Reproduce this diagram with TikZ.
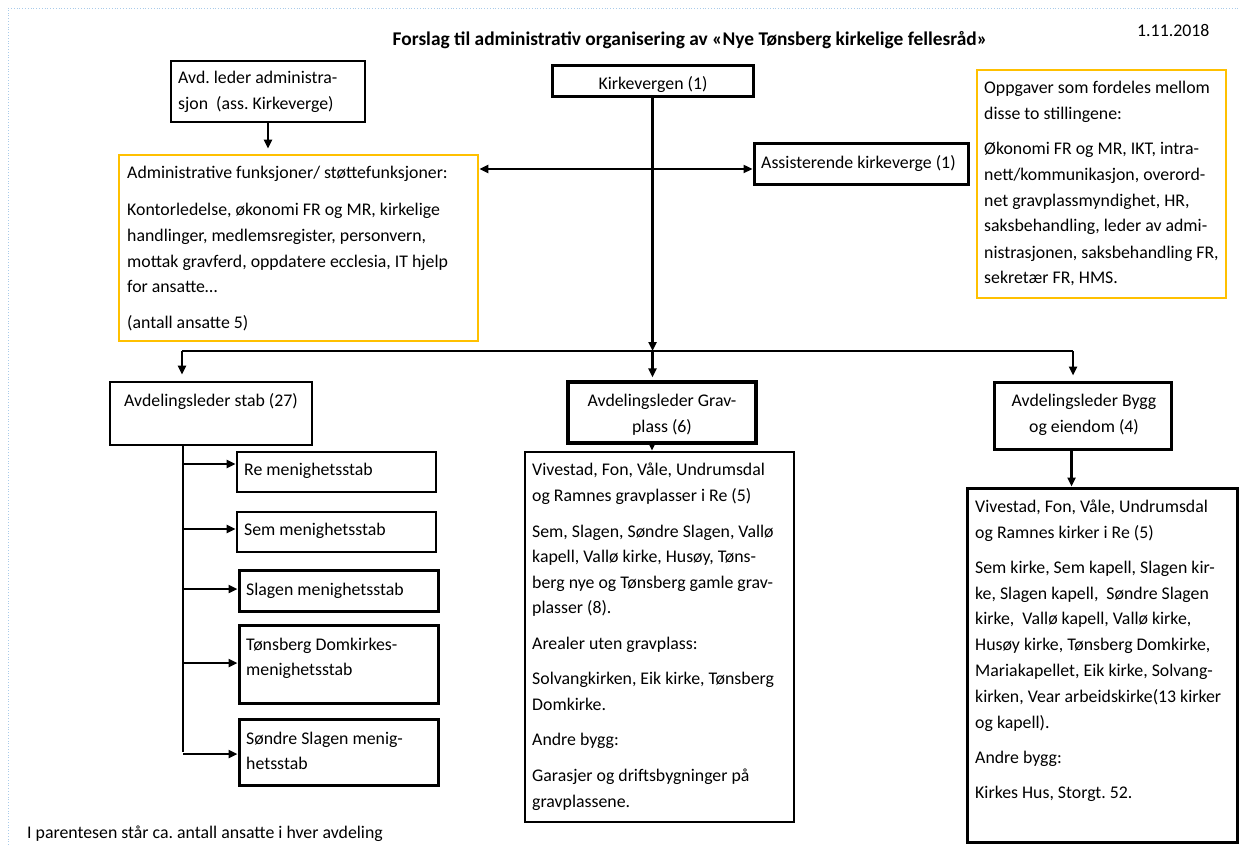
\documentclass[tikz,border=0pt]{standalone}
\usepackage{fontspec}
\setmainfont{Carlito}
\usetikzlibrary{arrows.meta,fit}
\definecolor{gold}{HTML}{FFC000}
\definecolor{pageblue}{HTML}{A9CBEA}
\newcommand\tl[4]{\node[txt] (#1) at (#2,#3) {#4};}
\newcommand\ctl[4]{\node[ctxt] (#1) at (#2,#3) {#4};}
\begin{document}
\begin{tikzpicture}[x=1pt,y=-1pt,
  txt/.style={inner sep=0pt, font=\frenchspacing\fontsize{17.8pt}{21pt}\selectfont, anchor=base west},
  ctxt/.style={txt, anchor=base},
  bxk/.style={draw=black, line width=2.6pt, inner sep=0pt},
  bxthin/.style={draw=black, line width=1.4pt, inner sep=0pt},
  bxy/.style={draw=gold, line width=2.8pt, inner sep=0pt},
  conn/.style={line width=2.3pt},
  arr/.style={conn, -{Triangle[length=9pt,width=8pt]}},
  darr/.style={conn, {Triangle[length=9pt,width=8pt]}-{Triangle[length=9pt,width=8pt]}},
]
\useasboundingbox (0,0) rectangle (1239,845);
\draw[pageblue, line width=0.8pt, dotted] (8,845) -- (8,8) -- (1239,8);

% title and date
\node[txt, anchor=base, font=\frenchspacing\bfseries\fontsize{19.4pt}{22pt}\selectfont] (title) at (690,46) {Forslag til administrativ organisering av «Nye Tønsberg kirkelige fellesråd»};
\tl{date}{1137}{37}{1.11.2018}

% boxes
\node[bxthin, fit={(171,61)(365,122)}] (avd) {};
\node[bxk, line width=3pt, fit={(552,66)(753,97)}] (kv) {};
\node[bxy, fit={(119,155)(478,341)}] (admin) {};
\node[bxk, line width=3pt, fit={(754,144)(968,185)}] (assist) {};
\node[bxy, fit={(977,70)(1226,298)}] (oppg) {};
\node[bxk, fit={(110,382)(312,445)}] (stab) {};
\node[bxk, line width=3.4pt, fit={(568,382)(756,443)}] (grav) {};
\node[bxk, line width=3pt, fit={(994,382)(1171,449)}] (bygg) {};
\node[bxk, fit={(525,452)(794,822)}] (gravl) {};
\node[bxk, line width=3pt, fit={(967,488)(1237,842)}] (byggl) {};
\node[bxk, fit={(237,452)(436,492)}] (re) {};
\node[bxk, fit={(237,512)(436,552)}] (sem) {};
\node[bxk, line width=3pt, fit={(239,570)(438,611)}] (slagen) {};
\node[bxk, line width=3pt, fit={(239,625)(438,703)}] (tons) {};
\node[bxk, line width=3pt, fit={(239,719)(438,785)}] (sondre) {};

% texts
\tl{avd1}{178}{84}{Avd. leder administra-}
\tl{avd2}{178}{110}{sjon\ \ (ass. Kirkeverge)}
\ctl{kvt}{653}{90}{Kirkevergen (1)}
\tl{ast}{761}{169}{Assisterende kirkeverge (1)}

\tl{ad1}{127}{179}{Administrative funksjoner/ støttefunksjoner:}
\tl{ad2}{127}{215}{Kontorledelse, økonomi FR og MR, kirkelige}
\tl{ad3}{127}{241}{handlinger, medlemsregister, personvern,}
\tl{ad4}{127}{267}{mottak gravferd, oppdatere ecclesia, IT hjelp}
\tl{ad5}{127}{292}{for ansatte…}
\tl{ad6}{127}{328}{(antall ansatte 5)}

\tl{op1}{984}{94}{Oppgaver som fordeles mellom}
\tl{op2}{984}{120}{disse to stillingene:}
\tl{op3}{984}{155}{Økonomi FR og MR, IKT, intra-}
\tl{op4}{984}{181}{nett/kommunikasjon, overord-}
\tl{op5}{984}{207}{net gravplassmyndighet, HR,}
\tl{op6}{984}{232}{saksbehandling, leder av admi-}
\tl{op7}{984}{258}{nistrasjonen, saksbehandling FR,}
\tl{op8}{984}{283}{sekretær FR, HMS.}

\ctl{stabt}{211}{406}{Avdelingsleder stab (27)}
\tl{ret}{244}{475}{Re menighetsstab}
\tl{semt}{244}{535}{Sem menighetsstab}
\tl{slt}{246}{595}{Slagen menighetsstab}
\tl{to1}{246}{650}{Tønsberg Domkirkes-}
\tl{to2}{246}{675}{menighetsstab}
\tl{so1}{246}{744}{Søndre Slagen menig-}
\tl{so2}{246}{769}{hetsstab}

\ctl{gr1}{662}{406}{Avdelingsleder Grav-}
\ctl{gr2}{662}{432}{plass (6)}
\ctl{by1}{1084}{406}{Avdelingsleder Bygg}
\ctl{by2}{1084}{432}{og eiendom (4)}

\tl{gl1}{532}{475}{Vivestad, Fon, Våle, Undrumsdal}
\tl{gl2}{532}{501}{og Ramnes gravplasser i Re (5)}
\tl{gl3}{532}{537}{Sem, Slagen, Søndre Slagen, Vallø}
\tl{gl4}{532}{562}{kapell, Vallø kirke, Husøy, Tøns-}
\tl{gl5}{532}{588}{berg nye og Tønsberg gamle grav-}
\tl{gl6}{532}{613}{plasser (8).}
\tl{gl7}{532}{649}{Arealer uten gravplass:}
\tl{gl8}{532}{684}{Solvangkirken, Eik kirke, Tønsberg}
\tl{gl9}{532}{710}{Domkirke.}
\tl{gl10}{532}{745}{Andre bygg:}
\tl{gl11}{532}{781}{Garasjer og driftsbygninger på}
\tl{gl12}{532}{807}{gravplassene.}

\tl{bl1}{975}{512}{Vivestad, Fon, Våle, Undrumsdal}
\tl{bl2}{975}{538}{og Ramnes kirker i Re (5)}
\tl{bl3}{975}{573}{Sem kirke, Sem kapell, Slagen kir-}
\tl{bl4}{975}{599}{ke, Slagen kapell,\ \ Søndre Slagen}
\tl{bl5}{975}{624}{kirke,\ \ Vallø kapell, Vallø kirke,}
\tl{bl6}{975}{650}{Husøy kirke, Tønsberg Domkirke,}
\tl{bl7}{975}{676}{Mariakapellet, Eik kirke, Solvang-}
\tl{bl8}{975}{702}{kirken, Vear arbeidskirke(13 kirker}
\tl{bl9}{975}{728}{og kapell).}
\tl{bl10}{975}{763}{Andre bygg:}
\tl{bl11}{975}{798}{Kirkes Hus, Storgt. 52.}

\tl{foot}{27}{838}{I parentesen står ca. antall ansatte i hver avdeling}

% connectors
\coordinate (busL) at (182,351);
\coordinate (busR) at (1073,351);
\coordinate (spine) at (183,752);
\coordinate (avdin) at (avd.south |- admin.north);
\coordinate (dl) at (admin.east |- 0,169);
\coordinate (bre) at (183,464);
\coordinate (bsem) at (183,529);
\coordinate (bsl) at (183,589);
\coordinate (bto) at (183,663);
\coordinate (bso) at (183,754);
\draw[arr] (avd.south) -- ([yshift=5pt]avdin);
\draw[darr] (dl) -- (dl -| assist.west);
\draw[conn] (busL) -- (busR);
\draw[arr] (kv.south) -- (kv.south |- busL);
\draw[arr] (busL) -- ([yshift=6pt]busL |- stab.north);
\draw[arr] (kv.south |- busL) -- ([yshift=3pt]kv.south |- grav.north);
\draw[arr] (busR) -- ([yshift=5pt]busR |- bygg.north);
\draw[arr] ([xshift=-10pt]grav.south) -- ([xshift=-10pt]grav.south |- gravl.north);
\draw[arr] ([xshift=-11pt]bygg.south) -- ([xshift=-11pt]bygg.south |- byggl.north);
\draw[conn] (spine |- stab.south) -- (spine);
\draw[arr] (bre) -- (bre -| re.west);
\draw[arr] (bsem) -- (bsem -| sem.west);
\draw[arr] (bsl) -- (bsl -| slagen.west);
\draw[arr] (bto) -- (bto -| tons.west);
\draw[arr] (bso) -- (bso -| sondre.west);
\end{tikzpicture}
\end{document}
